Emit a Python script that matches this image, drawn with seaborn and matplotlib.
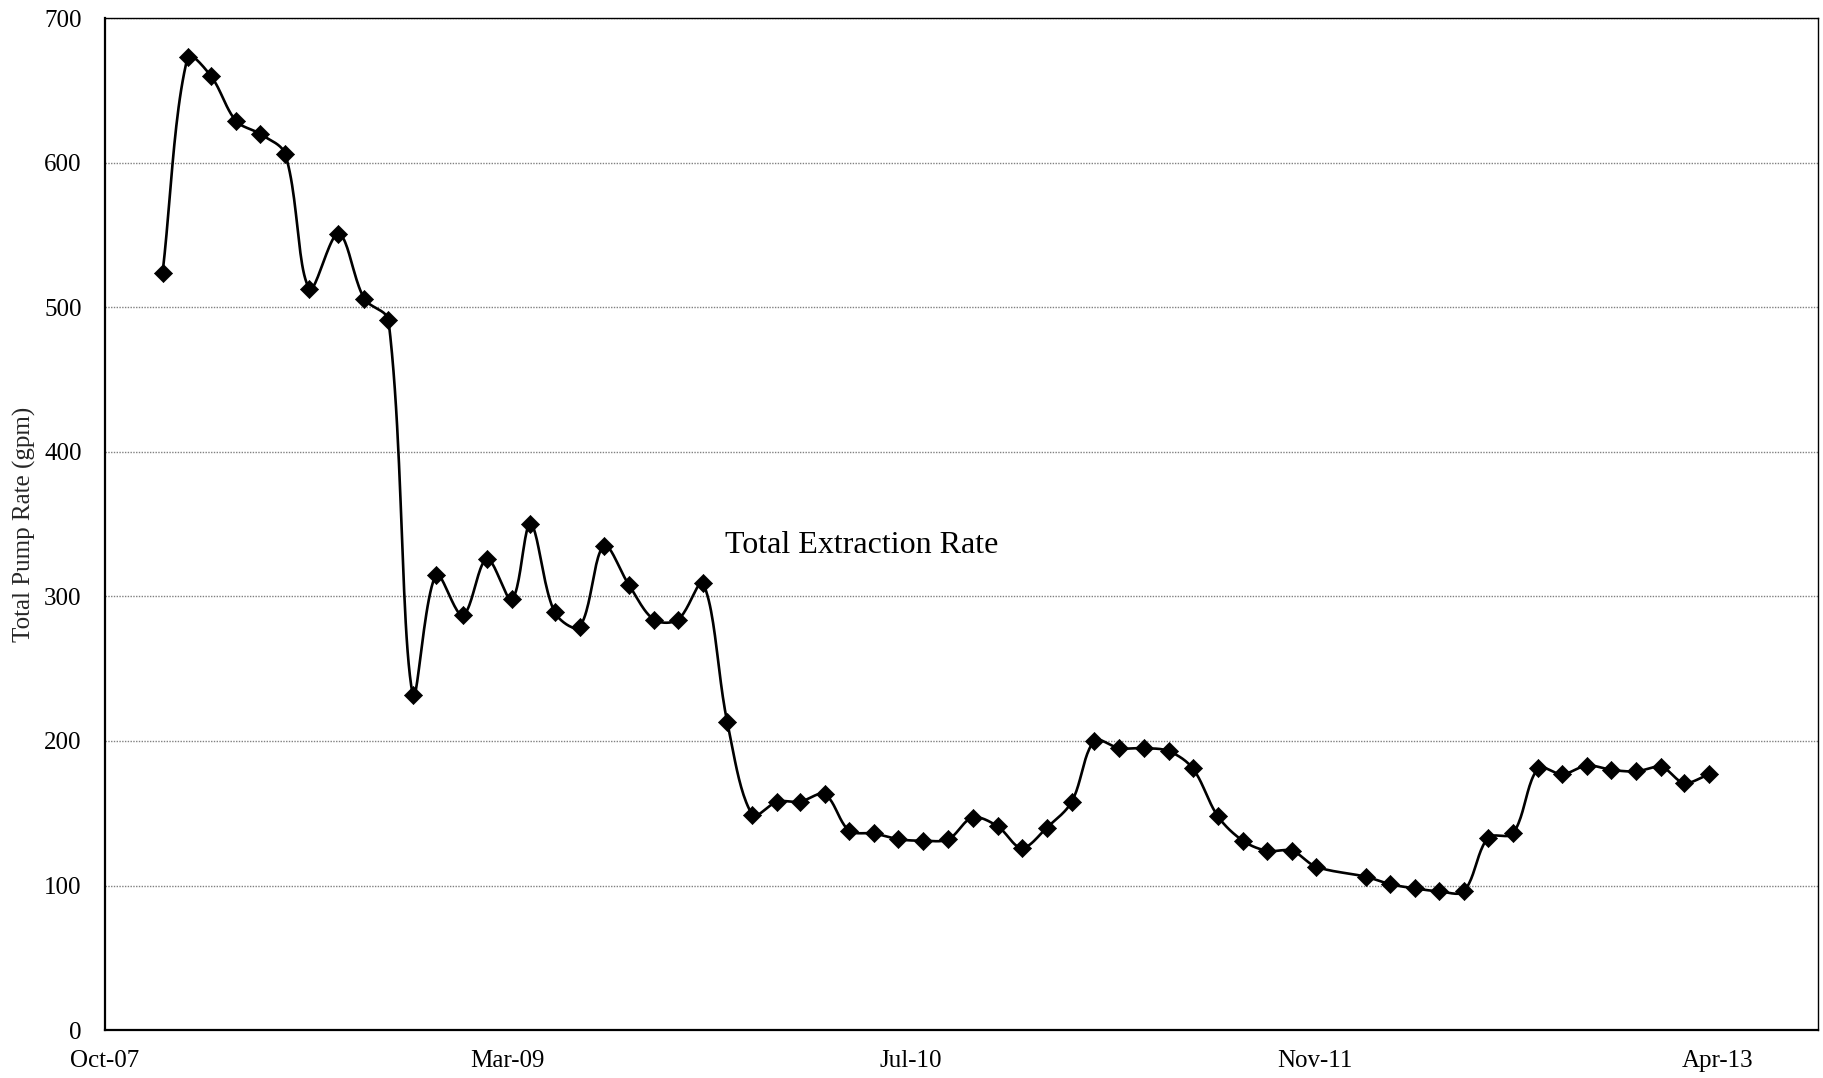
import numpy as np
import pandas as pd
import matplotlib
matplotlib.use("Agg")
import matplotlib.pyplot as plt
import matplotlib.dates as mdates
import seaborn as sns

# sampling dates and total extraction rate (gpm)
dates = ["2008-01-01", "2008-02-01", "2008-03-01", "2008-04-01", "2008-05-01",
         "2008-06-01", "2008-07-01", "2008-08-06", "2008-09-07", "2008-10-07",
         "2008-11-06", "2008-12-05", "2009-01-07", "2009-02-06", "2009-03-09",
         "2009-04-01", "2009-05-01", "2009-06-01", "2009-07-01", "2009-08-01",
         "2009-09-01", "2009-10-01", "2009-11-01", "2009-12-01", "2010-01-01",
         "2010-02-01", "2010-03-01", "2010-04-01", "2010-05-01", "2010-06-01",
         "2010-07-01", "2010-08-01", "2010-09-01", "2010-10-01", "2010-11-01",
         "2010-12-01", "2011-01-01", "2011-02-01", "2011-03-01", "2011-04-01",
         "2011-05-01", "2011-06-01", "2011-07-01", "2011-08-01", "2011-09-01",
         "2011-10-01", "2011-11-01", "2011-12-01", "2012-02-01", "2012-03-01",
         "2012-04-01", "2012-05-01", "2012-06-01", "2012-07-01", "2012-08-01",
         "2012-09-01", "2012-10-01", "2012-11-01", "2012-12-01", "2013-01-01",
         "2013-02-01", "2013-03-01", "2013-04-01"]
rates = [524, 673, 660, 629, 620, 606, 513, 551, 506, 491,
         232, 315, 287, 326, 298, 350, 289, 279, 335, 308,
         284, 284, 309, 213, 149, 158, 158, 163, 138, 136,
         132, 131, 132, 147, 141, 126, 140, 158, 200, 195,
         195, 193, 181, 148, 131, 124, 124, 113, 106, 101,
         98, 96, 96, 133, 136, 181, 177, 183, 180, 179,
         182, 171, 177]

axis_start = pd.Timestamp("2007-10-21")
tick_step_days = 500
axis_span_days = 2124
y_ticks = [0, 100, 200, 300, 400, 500, 600, 700]

df = pd.DataFrame({"date": pd.to_datetime(dates), "rate": rates})
df["x"] = mdates.date2num(df["date"])


def excel_smooth(x, y, sx, sy, n=24):
    # smoothed line like a spreadsheet chart: bezier segments, tangent split
    # by the lengths of the neighbouring segments (done in pixel units)
    P = np.column_stack([np.asarray(x, float) * sx, np.asarray(y, float) * sy])
    m = len(P)
    c_out = P.copy()
    c_in = P.copy()
    for i in range(m):
        prev = P[max(i - 1, 0)]
        nxt = P[min(i + 1, m - 1)]
        T = nxt - prev
        d_prev = np.hypot(*(P[i] - prev))
        d_next = np.hypot(*(nxt - P[i]))
        tot = d_prev + d_next
        if tot == 0:
            continue
        c_out[i] = P[i] + T * (d_next / tot) / 3.0
        c_in[i] = P[i] - T * (d_prev / tot) / 3.0
    out = [P[0]]
    t = np.linspace(0, 1, n)[1:, None]
    for i in range(m - 1):
        p1, c1, c2, p2 = P[i], c_out[i], c_in[i + 1], P[i + 1]
        seg = ((1 - t) ** 3) * p1 + 3 * ((1 - t) ** 2) * t * c1 + 3 * (1 - t) * t ** 2 * c2 + t ** 3 * p2
        out.extend(seg)
    out = np.array(out)
    return out[:, 0] / sx, out[:, 1] / sy


sns.set_style("white")
plt.rcParams["font.family"] = ["Liberation Serif", "DejaVu Serif"]

fig = plt.figure(figsize=(18.24, 10.78), dpi=100)
ax = fig.add_axes([0.0573, 0.0445, 0.9394, 0.9385])

x0 = mdates.date2num(axis_start)
sx = 1713.5 / axis_span_days
sy = 1011.7 / 700.0
cx, cy = excel_smooth(df["x"] - x0, df["rate"], sx, sy)
curve = pd.DataFrame({"x": cx + x0, "rate": cy})

sns.lineplot(data=curve, x="x", y="rate", sort=False, color="black", linewidth=1.9, ax=ax)
sns.scatterplot(data=df, x="x", y="rate", marker="D", color="black", s=85,
                edgecolor="black", linewidth=0.5, zorder=3, ax=ax)

ticks = [x0 + k * tick_step_days for k in range(5)]
ax.set_xticks(ticks)
ax.set_xticklabels([mdates.num2date(t).strftime("%b-%y") for t in ticks])
ax.set_xlim(x0, x0 + axis_span_days)
ax.set_ylim(0, 700)
ax.set_yticks(y_ticks)

ax.yaxis.grid(True, color="#808080", linestyle=(0, (1, 1)), linewidth=1.0)
ax.xaxis.grid(False)
for side in ["top", "right", "bottom", "left"]:
    ax.spines[side].set_color("black")
    ax.spines[side].set_linewidth(1.0)
ax.spines["left"].set_linewidth(1.6)
ax.spines["bottom"].set_linewidth(1.6)

ax.tick_params(axis="both", labelsize=18, colors="black", direction="out", length=5.5, width=1.0)
ax.tick_params(axis="y", pad=11)
ax.tick_params(axis="x", pad=9)

ax.set_xlabel("")
ax.set_ylabel("Total Pump Rate (gpm)", fontsize=18)
ax.yaxis.set_label_coords(-0.040, 0.5)

ax.text(x0 + 769, 335, "Total Extraction Rate", fontsize=23, ha="left", va="center", color="black")

fig.savefig("out.png", dpi=100, facecolor="white")
